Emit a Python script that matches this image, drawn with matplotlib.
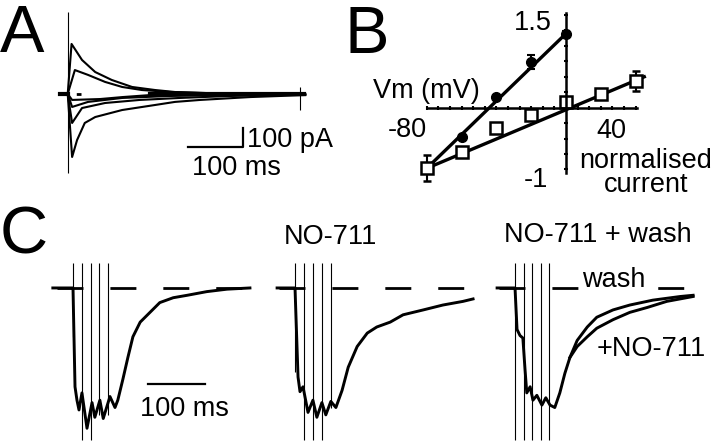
import numpy as np
import matplotlib
matplotlib.use('Agg')
import matplotlib.pyplot as plt

plt.rcParams['font.family'] = ['Liberation Sans', 'DejaVu Sans']
plt.rcParams['lines.scale_dashes'] = False

# ---------------- data ----------------
# A: current responses (ms, pA)
a1_t = [-15, 0, 7, 26, 50, 80, 117, 159, 195, 241, 330, 430]
a1_i = [0, 0, 278, 189, 122, 78, 39, 22, 11, 6, 0, 0]
a2_t = [-15, 0, 13, 37, 68, 99, 135, 186, 277, 430]
a2_i = [0, 0, 133, 106, 67, 39, 22, 11, 3, 0]
a3_t = [-15, 0, 8, 59, 100, 150, 240, 430]
a3_i = [0, 0, -33, -28, -17, -6, -2, 0]
a4_t = [-15, 0, 8, 37, 99, 186, 277, 432]
a4_i = [0, 0, -72, -44, -22, -11, -6, 0]
a5_t = [-15, 0, 8, 26, 68, 131, 204, 295, 432]
a5_i = [0, 0, -161, -78, -50, -33, -22, -11, -3]
a6_t = [-15, 0, 8, 17, 31, 50, 99, 159, 195, 241, 332, 432]
a6_i = [0, 0, -350, -256, -161, -128, -89, -61, -44, -33, -17, -6]
a_artifact = [0, 456, -439]      # time, top, bottom
a_endtick = [422, 39, -89]

# B: I-V relation (mV, normalised current)
vm = [-80, -60, -40, -20, 0]
cur_ctrl = [-0.98, -0.47, 0.17, 0.74, 1.19]
err_ctrl = [0.0, 0.0, 0.0, 0.12, 0.05]
vm_sq = [-80, -60, -40, -20, 0, 20, 40]
cur_sq = [-0.98, -0.72, -0.33, -0.12, 0.09, 0.22, 0.43]
err_sq = [0.21, 0.0, 0.0, 0.0, 0.0, 0.0, 0.16]
fit_ctrl_v = [-80, 0]
fit_ctrl_i = [-0.98, 1.2]
fit_sq_v = [-80, 45]
fit_sq_i = [-0.98, 0.50]

# C: synaptic currents (ms, normalised)
c1_t = [-36, -2, 0, 3.6, 7.1, 10.7, 16, 25, 34, 39, 48, 54, 66, 75, 80, 89, 98,
        107, 120, 137.5, 155, 179, 204, 239, 275, 316]
c1_a = [0, 0, 0, -0.81, -0.92, -1.0, -0.86, -1.15, -0.94, -1.06, -0.92, -1.07,
        -0.89, -0.98, -0.92, -0.75, -0.57, -0.40, -0.28, -0.20, -0.12, -0.08,
        -0.06, -0.03, -0.01, 0]
c1_stim = [0, 16, 32, 46, 62.5]
c1_stim_low = [-0.40, -1.25, -1.25, -1.04, -1.04]

c2_t = [-32, -2, 0, 5.4, 8.9, 14.3, 23.2, 32, 39, 48, 55, 64, 73, 84, 95, 111,
        129, 146, 170, 193, 229, 264, 300, 318]
c2_a = [0, 0, 0, -0.73, -0.85, -0.81, -1.02, -0.92, -1.06, -0.94, -1.04, -0.93,
        -0.98, -0.84, -0.65, -0.48, -0.37, -0.32, -0.28, -0.22, -0.18, -0.14,
        -0.11, -0.09]
c2_stim = [0, 16, 32, 48, 64]
c2_stim_low = [-0.69, -1.25, -1.25, -1.25, -0.98]

c3_t = [-32, -2, 0, 3.6, 8.9, 14, 17.9, 21, 27, 32, 39, 48, 55, 62.5, 71, 80,
        89, 98, 111, 129, 146, 175, 205, 246, 295, 318]
c3_wash = [0, 0, 0, -0.34, -0.39, -0.41, -0.67, -0.86, -0.81, -0.92, -0.88,
           -0.96, -0.90, -0.96, -0.98, -0.86, -0.70, -0.57, -0.43, -0.32,
           -0.24, -0.18, -0.14, -0.10, -0.07, -0.06]
c3_drug_t = [98, 111, 129, 146, 175, 205, 236, 271, 318]
c3_drug = [-0.57, -0.48, -0.40, -0.33, -0.26, -0.20, -0.16, -0.11, -0.07]
c3_stim = [0, 16, 30, 46, 61]
c3_stim_low = [-1.25, -1.25, -1.25, -1.25, -1.25]
stim_top = 0.205
zero_line = [-29, 305]

fig = plt.figure(figsize=(7.2, 4.44), dpi=100)


def pax(x0, y0, x1, y1):
    return fig.add_axes([x0 / 720, 1 - y1 / 444, (x1 - x0) / 720, (y1 - y0) / 444])


FS = 19.5

#-----------------------------------------------------------------------------------
# A
axA = pax(50, 5, 315, 185)
axA.set_xlim(-32.2, 449.6)
axA.set_ylim(-505.6, 494.4)
axA.axis('off')
for t, i in [(a1_t, a1_i), (a2_t, a2_i), (a3_t, a3_i), (a4_t, a4_i),
             (a5_t, a5_i), (a6_t, a6_i)]:
    axA.plot(t, i, color='k', lw=1.5)
axA.plot([150, 430], [0, 0], color='k', lw=3)
axA.plot([-14, 0], [0, 0], color='k', lw=3)
axA.plot([-12, 25], [0, 0], color='k', lw=2, dashes=(5, 6))
axA.vlines(a_artifact[0], a_artifact[2], a_artifact[1], color='k', lw=0.8)
axA.vlines(a_endtick[0], a_endtick[2], a_endtick[1], color='k', lw=0.8)
axA.plot([219, 319, 319], [-294, -294, -189], color='k', lw=1.6)
axA.text(326, -294, '100 pA', fontsize=FS, va='baseline', ha='left')
axA.text(226, -450, '100 ms', fontsize=FS, va='baseline', ha='left')

#-----------------------------------------------------------------------------------
# B
axB = pax(360, 0, 720, 200)
axB.set_xlim(-118.4, 88.5)
axB.set_ylim(-1.494, 1.743)
for s in ['top', 'right']:
    axB.spines[s].set_visible(False)
axB.spines['left'].set_position(('data', 0))
axB.spines['bottom'].set_position(('data', 0))
axB.spines['left'].set_bounds(-1.06, 1.53)
axB.spines['bottom'].set_bounds(-80, 41)
axB.spines['left'].set_linewidth(1.8)
axB.spines['bottom'].set_linewidth(1.8)
axB.set_xticks(np.linspace(-80, 40, 19))
axB.set_yticks(np.arange(-1, 1.51, 0.25))
axB.tick_params(direction='inout', length=3.5, width=1.5,
                labelbottom=False, labelleft=False)
axB.plot(fit_ctrl_v, fit_ctrl_i, color='k', lw=2.4)
axB.plot(fit_sq_v, fit_sq_i, color='k', lw=2.4)
axB.errorbar(vm, cur_ctrl, yerr=err_ctrl, fmt='o', color='k', ms=7,
             capsize=3, elinewidth=1.5, capthick=1.5)
axB.errorbar(vm_sq, cur_sq, yerr=err_sq, fmt='s', color='k', mfc='white',
             mec='k', mew=1.8, ms=8, capsize=3, elinewidth=1.5, capthick=1.5)
axB.text(-80.5, 0.155, 'Vm (mV)', fontsize=FS, ha='center', va='baseline')
axB.text(-79.9, -0.47, '-80', fontsize=FS, ha='right', va='baseline')
axB.text(-8, 1.26, '1.5', fontsize=FS, ha='right', va='baseline')
axB.text(-10.3, -1.28, '-1', fontsize=FS, ha='right', va='baseline')
axB.text(26, -0.49, '40', fontsize=FS, ha='center', va='baseline')
axB.text(46, -0.98, 'normalised', fontsize=FS, ha='center', va='baseline')
axB.text(46, -1.36, 'current', fontsize=FS, ha='center', va='baseline')

#-----------------------------------------------------------------------------------
# C
ylimC = (-1.279, 0.598)
axC1 = pax(45, 215, 265, 444)
axC1.set_xlim(-50, 342.9)
axC2 = pax(265, 215, 485, 444)
axC2.set_xlim(-53.6, 339.3)
axC3 = pax(485, 215, 720, 444)
axC3.set_xlim(-53.6, 366)
for ax in [axC1, axC2, axC3]:
    ax.set_ylim(*ylimC)
    ax.axis('off')
    ax.plot(zero_line, [0, 0], color='k', lw=2, dashes=(18.7, 19.4))

for ax, t, a, st, lo in [(axC1, c1_t, c1_a, c1_stim, c1_stim_low),
                         (axC2, c2_t, c2_a, c2_stim, c2_stim_low),
                         (axC3, c3_t, c3_wash, c3_stim, c3_stim_low)]:
    ax.plot(t, a, color='k', lw=2.1)
    ax.vlines(st, lo, stim_top, color='k', lw=0.8)
axC3.plot(c3_drug_t, c3_drug, color='k', lw=2.1)

axC1.plot([134, 236], [-0.787, -0.787], color='k', lw=1.6)
axC1.text(120, -0.99, '100 ms', fontsize=FS, ha='left', va='center')
axC2.text(64, 0.42, 'NO-711', fontsize=FS, ha='center', va='center')
axC3.text(148, 0.43, 'NO-711 + wash', fontsize=FS, ha='center', va='center')
axC3.text(177, 0.066, 'wash', fontsize=FS, ha='center', va='center',
          bbox=dict(facecolor='white', edgecolor='none', pad=1))
axC3.text(146, -0.50, '+NO-711', fontsize=FS, ha='left', va='center')

# panel letters
fig.text(0, 1 - 52 / 444, 'A', fontsize=48, va='baseline', ha='left')
fig.text(345 / 720, 1 - 53 / 444, 'B', fontsize=48, va='baseline', ha='left')
fig.text(0, 1 - 253 / 444, 'C', fontsize=48, va='baseline', ha='left')

fig.savefig('out.png', dpi=100)
